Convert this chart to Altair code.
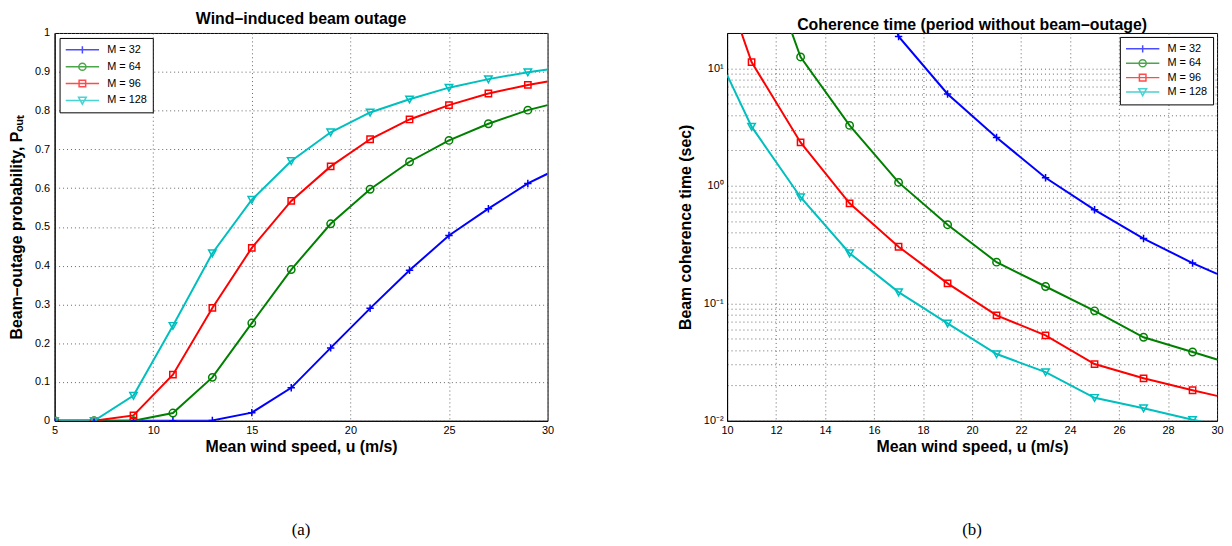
import altair as alt
import pandas as pd

# ---------------- data ----------------
series = ["M = 32", "M = 64", "M = 96", "M = 128"]
colors = ["#0000ff", "#008000", "#ff0000", "#00bfbf"]

# (a) beam-outage probability vs mean wind speed
speed_a = [5, 7, 9, 11, 13, 15, 17, 19, 21, 23, 25, 27, 29, 30]
pout_32 = [0, 0, 0, 0, 0.001, 0.021, 0.085, 0.188, 0.290, 0.388, 0.478, 0.547, 0.612, 0.637]
pout_64 = [0, 0, 0, 0.020, 0.112, 0.252, 0.390, 0.508, 0.597, 0.668, 0.723, 0.766, 0.801, 0.814]
pout_96 = [0, 0, 0.014, 0.119, 0.291, 0.446, 0.567, 0.656, 0.726, 0.777, 0.814, 0.844, 0.866, 0.875]
pout_128 = [0, 0, 0.065, 0.245, 0.432, 0.570, 0.670, 0.744, 0.795, 0.829, 0.859, 0.881, 0.899, 0.906]

# (b) coherence time vs mean wind speed (sec)
speed_b = [10, 11, 13, 15, 17, 19, 21, 23, 25, 27, 29, 30]
tc_32 = [300000, 100000, 10000, 400, 18.7, 6.05, 2.58, 1.17, 0.625, 0.356, 0.22, 0.178]
tc_64 = [1500, 178, 12.5, 3.27, 1.07, 0.467, 0.224, 0.139, 0.0863, 0.0514, 0.0385, 0.0332]
tc_96 = [45, 11.3, 2.34, 0.71, 0.303, 0.148, 0.079, 0.0534, 0.0304, 0.023, 0.0182, 0.0163]
tc_128 = [8.8, 3.19, 0.80, 0.267, 0.1245, 0.0675, 0.037, 0.026, 0.0157, 0.0128, 0.0102, 0.0093]

y_ticks_a = [0, 0.1, 0.2, 0.3, 0.4, 0.5, 0.6, 0.7, 0.8, 0.9, 1]
x_ticks_a = [5, 10, 15, 20, 25, 30]
x_ticks_b = [10, 12, 14, 16, 18, 20, 22, 24, 26, 28, 30]
y_grid_b = [m * 10.0 ** e for e in (-2, -1, 0) for m in range(1, 10)] + [10]

# ---------------- styling helpers ----------------
FONT = "Liberation Sans"
marker_paths = [
    "M-1,0H1M0,-1V1",
    "M1,0A1,1,0,1,1,-1,0A1,1,0,1,1,1,0Z",
    "M-0.85,-0.85H0.85V0.85H-0.85Z",
    "M-1,-0.85H1L0,0.95Z",
]
# legend symbols: 12px unit box (size 144), line drawn well beyond it
legend_paths = [
    "M-2.8,0H2.8M0,-0.6V0.6",
    "M-2.8,0H2.8M0.6,0A0.6,0.6,0,1,1,-0.6,0A0.6,0.6,0,1,1,0.6,0Z",
    "M-2.8,0H2.8M-0.55,-0.55H0.55V0.55H-0.55Z",
    "M-2.8,0H2.8M-0.65,-0.55H0.65L0,0.62Z",
]


def long_df(xs, cols):
    rows = []
    for name, vals in zip(series, cols):
        for x, v in zip(xs, vals):
            rows.append({"x": x, "y": v, "M": name, "mk": x % 2 == 1})
    return pd.DataFrame(rows)


def panel(df, xenc, yenc, title, caption, width, height, legend_orient, legend_offset,
          row_pad):
    color_line = alt.Color("M:N", scale=alt.Scale(domain=series, range=colors), legend=None)
    base = alt.Chart(df)
    lines = base.mark_line(strokeWidth=2, clip=True).encode(x=xenc, y=yenc, color=color_line)
    points = base.transform_filter("datum.mk").mark_point(
        filled=False, size=56, strokeWidth=1.5, opacity=1, clip=True
    ).encode(
        x=xenc, y=yenc, color=color_line,
        shape=alt.Shape("M:N", scale=alt.Scale(domain=series, range=marker_paths), legend=None),
    )
    leg = alt.Legend(
        title=None, orient=legend_orient, offset=legend_offset, fillColor="white",
        strokeColor="black", padding=5, symbolSize=144, symbolStrokeWidth=1.5,
        symbolOffset=11, labelOffset=18,
        labelFont=FONT, labelFontSize=11, labelColor="black", rowPadding=row_pad,
    )
    legend_layer = base.transform_filter("false").mark_point(filled=False, strokeWidth=1.5).encode(
        color=alt.Color("M:N", scale=alt.Scale(domain=series, range=colors), legend=leg),
        shape=alt.Shape("M:N", scale=alt.Scale(domain=series, range=legend_paths), legend=leg),
    )
    cap = alt.Chart(pd.DataFrame({"c": [caption]})).mark_text(
        font="Liberation Serif", fontSize=17, color="black", baseline="middle", align="center"
    ).encode(text="c:N", x=alt.value(width / 2), y=alt.value(height + 110))
    return alt.layer(lines, points, legend_layer, cap).resolve_scale(
        color="independent", shape="independent"
    ).properties(
        width=width, height=height,
        title=alt.Title(title, font=FONT, fontSize=16, fontWeight="bold", color="black",
                        anchor="middle", frame="group", offset=0),
    )


axis_common = dict(
    labelFont=FONT, labelFontSize=11, labelColor="black", titleFont=FONT, titleFontSize=16,
    titleFontWeight="bold", titleColor="black", domainColor="black", ticks=False,
    grid=True, gridColor="#555555", gridDash=[1, 3], gridOpacity=0.9, labelFlush=False,
    labelOverlap=False,
)

df_a = long_df(speed_a, [pout_32, pout_64, pout_96, pout_128])
df_b = long_df(speed_b, [tc_32, tc_64, tc_96, tc_128])

xa = alt.X("x:Q", scale=alt.Scale(domain=[5, 30], nice=False),
           axis=alt.Axis(values=x_ticks_a, title="Mean wind speed, u (m/s)", labelPadding=4,
                         titlePadding=3, **axis_common))
ya = alt.Y("y:Q", scale=alt.Scale(domain=[0, 1], nice=False),
           axis=alt.Axis(values=y_ticks_a, format=".1~f", title="Beam\u2013outage probability, P\u2092\u1d64\u209c",
                         labelPadding=5, titlePadding=10, **axis_common))

xb = alt.X("x:Q", scale=alt.Scale(domain=[10, 30], nice=False),
           axis=alt.Axis(values=x_ticks_b, title="Mean wind speed, u (m/s)", labelPadding=4,
                         titlePadding=3, **axis_common))
yb = alt.Y("y:Q", scale=alt.Scale(type="log", domain=[0.01, 20], nice=False),
           axis=alt.Axis(values=y_grid_b, title="Beam coherence time (sec)", labelPadding=4,
                         titlePadding=10,
                         labelExpr="datum.value == 10 ? '10\u00b9' : datum.value == 1 ? '10\u2070' : "
                                   "datum.value == 0.1 ? '10\u207b\u00b9' : datum.value == 0.01 ? '10\u207b\u00b2' : ''",
                         **axis_common))

left = panel(df_a, xa, ya, "Wind\u2013induced beam outage", "(a)", 497, 391,
             "top-left", 5, 3)
right = panel(df_b, xb, yb, "Coherence time (period without beam\u2013outage)", "(b)", 494, 391,
              "top-right", 4, 0.5)

chart = alt.hconcat(left, right, spacing=123).properties(padding=0).configure_view(
    stroke="black", strokeWidth=1
)

chart.save("out.html", embed_options={"renderer": "svg", "actions": False})
